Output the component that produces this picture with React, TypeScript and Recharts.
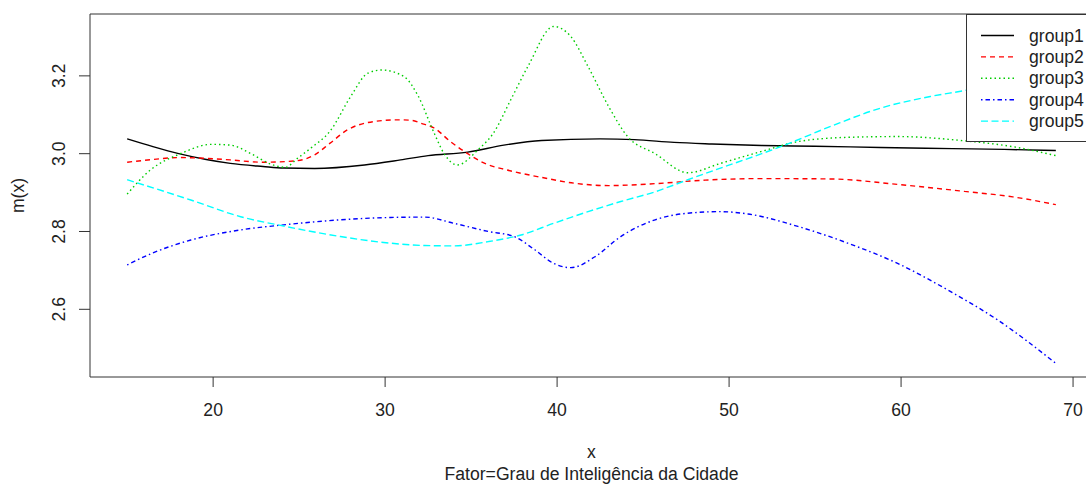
import React from 'react';
import { LineChart, Line, XAxis, YAxis, Legend, ReferenceArea, Label } from 'recharts';

const FONT = '"Liberation Sans", Arial, Helvetica, sans-serif';
const FS = 17.6;

const xTicks = [20, 30, 40, 50, 60, 70];
const yTicks = [2.6, 2.8, 3.0, 3.2];
const xDomain = [12.84, 71.16];
const yDomain = [2.426, 3.359];

const seriesNames = ['group1', 'group2', 'group3', 'group4', 'group5'];
const seriesColors = ['#000000', '#FF0000', '#00CD00', '#0000FF', '#00FFFF'];
const seriesDash = ['', '5 4', '1.5 3', '1.5 3 4.5 3', '7 3.5'];

const group1X = [15, 16.5, 18, 19.6, 21, 22.9, 24.1, 25.9, 28.8, 30.9, 32.5, 34.8, 36.9, 39.1, 42.5, 44.5, 46.8, 49, 51.9, 55, 58.8, 63, 66, 69];
const group1Y = [3.038, 3.018, 3.0, 2.985, 2.975, 2.967, 2.963, 2.962, 2.971, 2.984, 2.995, 3.004, 3.022, 3.034, 3.038, 3.036, 3.029, 3.025, 3.021, 3.019, 3.016, 3.013, 3.011, 3.008];

const group2X = [15, 16.5, 18, 19.6, 21, 22.9, 24.9, 25.9, 26.8, 27.8, 29, 30.7, 31.5, 32.1, 32.85, 33.8, 34.8, 35.8, 37.1, 39.1, 41, 43, 45.7, 48.6, 51.9, 55.9, 59.8, 63.7, 66.5, 69];
const group2Y = [2.978, 2.985, 2.99, 2.988, 2.984, 2.978, 2.982, 2.997, 3.027, 3.061, 3.08, 3.087, 3.086, 3.078, 3.066, 3.031, 3.0, 2.975, 2.958, 2.939, 2.924, 2.918, 2.923, 2.932, 2.936, 2.935, 2.921, 2.903, 2.889, 2.869];

const group3X = [15, 16.35, 18.1, 19.9, 21, 22.2, 23.3, 24.2, 24.9, 25.7, 26.8, 28, 29, 29.8, 31.1, 31.9, 32.85, 33.43, 34.2, 35.4, 36.3, 37.3, 38.3, 39.8, 40.8, 41.8, 43, 44.1, 45.7, 47.6, 49.5, 51.9, 54, 56.9, 59.8, 63.7, 66.5, 69];
const group3Y = [2.896, 2.958, 3.0, 3.024, 3.022, 3.0, 2.974, 2.965, 2.988, 3.015, 3.058, 3.147, 3.207, 3.215, 3.198, 3.15, 3.053, 3.0, 2.971, 3.01, 3.053, 3.138, 3.224, 3.327, 3.301, 3.224, 3.121, 3.044, 3.0, 2.951, 2.975, 3.006, 3.031, 3.042, 3.044, 3.033, 3.018, 2.995];

const group4X = [15, 16.5, 18.7, 21.6, 24.1, 27.4, 30.3, 32.3, 34, 36, 37.5, 38.7, 39.8, 40.8, 42.2, 43.7, 45.7, 47.6, 49.5, 51.1, 54, 56.9, 59.8, 62.7, 65.6, 69];
const group4Y = [2.714, 2.745, 2.778, 2.804, 2.817, 2.83, 2.836, 2.837, 2.821, 2.8, 2.787, 2.753, 2.718, 2.707, 2.735, 2.787, 2.83, 2.847, 2.851, 2.845, 2.813, 2.77, 2.718, 2.65, 2.573, 2.461];

const group5X = [15, 18.7, 21.6, 24.1, 27.4, 30.3, 32.3, 34, 36, 37.9, 39.8, 41.8, 43.7, 45.7, 47.6, 49.5, 51.9, 53, 55.9, 58.8, 61.7, 63.9, 66.5, 69];
const group5Y = [2.933, 2.881, 2.838, 2.814, 2.787, 2.77, 2.764, 2.763, 2.774, 2.791, 2.821, 2.851, 2.877, 2.902, 2.933, 2.963, 3.0, 3.018, 3.07, 3.117, 3.147, 3.164, 3.19, 3.215];

const toRows = (xs: number[], ys: number[]) => xs.map((x, i) => ({ x, y: ys[i] }));
const seriesData = [
  toRows(group1X, group1Y),
  toRows(group2X, group2Y),
  toRows(group3X, group3Y),
  toRows(group4X, group4Y),
  toRows(group5X, group5Y),
];

const XTick = (props: any) => {
  const { x, y, payload } = props;
  return (
    <text x={x} y={y} dy={12.4} textAnchor="middle" fontSize={FS} fill="#222" fontFamily={FONT}>
      {payload.value}
    </text>
  );
};

const YTick = (props: any) => {
  const { x, y, payload } = props;
  return (
    <text x={x} y={y} transform={`rotate(-90 ${x} ${y})`} textAnchor="middle" fontSize={FS} fill="#222" fontFamily={FONT}>
      {Number(payload.value).toFixed(1)}
    </text>
  );
};

const XTitle = () => (
  <g>
    <text x={591.5} y={457.5} textAnchor="middle" fontSize={FS} fill="#222" fontFamily={FONT}>x</text>
    <text x={591.5} y={479.5} textAnchor="middle" fontSize={FS} fill="#222" fontFamily={FONT}>Fator=Grau de Inteligência da Cidade</text>
  </g>
);

const YTitle = () => (
  <text x={24} y={195.5} transform="rotate(-90 24 195.5)" textAnchor="middle" fontSize={FS} fill="#222" fontFamily={FONT}>m(x)</text>
);

const renderLegend = () => (
  <div style={{ width: 128, height: 128, background: '#fff', border: '1px solid #333', boxSizing: 'border-box' }}>
    <svg width={126} height={126} style={{ display: 'block' }}>
      {seriesNames.map((name, i) => {
        const cy = 20.5 + i * 21.4;
        return (
          <g key={name}>
            <line x1={14} x2={47} y1={cy} y2={cy} stroke={seriesColors[i]} strokeWidth={1.4} strokeDasharray={seriesDash[i] || undefined} />
            <text x={62} y={cy} dy={6} fontSize={FS} fill="#222" fontFamily={FONT}>{name}</text>
          </g>
        );
      })}
    </svg>
  </div>
);

export default function App() {
  return (
    <div style={{ position: 'absolute', left: 0, top: 0, width: 1086, height: 487, overflow: 'hidden', background: '#fff' }}>
      <LineChart width={1100} height={487} margin={{ top: 14, right: 7, bottom: 0, left: 0 }}>
        <ReferenceArea
          x1={xDomain[0]}
          x2={xDomain[1]}
          y1={yDomain[0]}
          y2={yDomain[1]}
          fill="none"
          fillOpacity={0}
          stroke="#333"
          strokeWidth={1}
          ifOverflow="visible"
        />
        <XAxis
          type="number"
          dataKey="x"
          domain={xDomain}
          ticks={xTicks}
          allowDataOverflow
          height={110}
          axisLine={false}
          tickLine={{ stroke: '#333' }}
          tickSize={10}
          tickMargin={17}
          tick={XTick}
          interval={0}
        >
          <Label content={XTitle} />
        </XAxis>
        <YAxis
          type="number"
          dataKey="y"
          domain={yDomain}
          ticks={yTicks}
          allowDataOverflow
          width={90}
          axisLine={false}
          tickLine={{ stroke: '#333' }}
          tickSize={11}
          tickMargin={13.5}
          tick={YTick}
          interval={0}
        >
          <Label content={YTitle} />
        </YAxis>
        {seriesData.map((rows, i) => (
          <Line
            key={seriesNames[i]}
            data={rows}
            dataKey="y"
            name={seriesNames[i]}
            type="monotone"
            stroke={seriesColors[i]}
            strokeWidth={1.4}
            strokeDasharray={seriesDash[i] || undefined}
            dot={false}
            activeDot={false}
            isAnimationActive={false}
          />
        ))}
        <Legend
          layout="vertical"
          align="center"
          verticalAlign="middle"
          content={renderLegend}
          wrapperStyle={{ position: 'absolute', left: 966, top: 14, width: 128, height: 128, margin: 0 }}
        />
      </LineChart>
    </div>
  );
}
